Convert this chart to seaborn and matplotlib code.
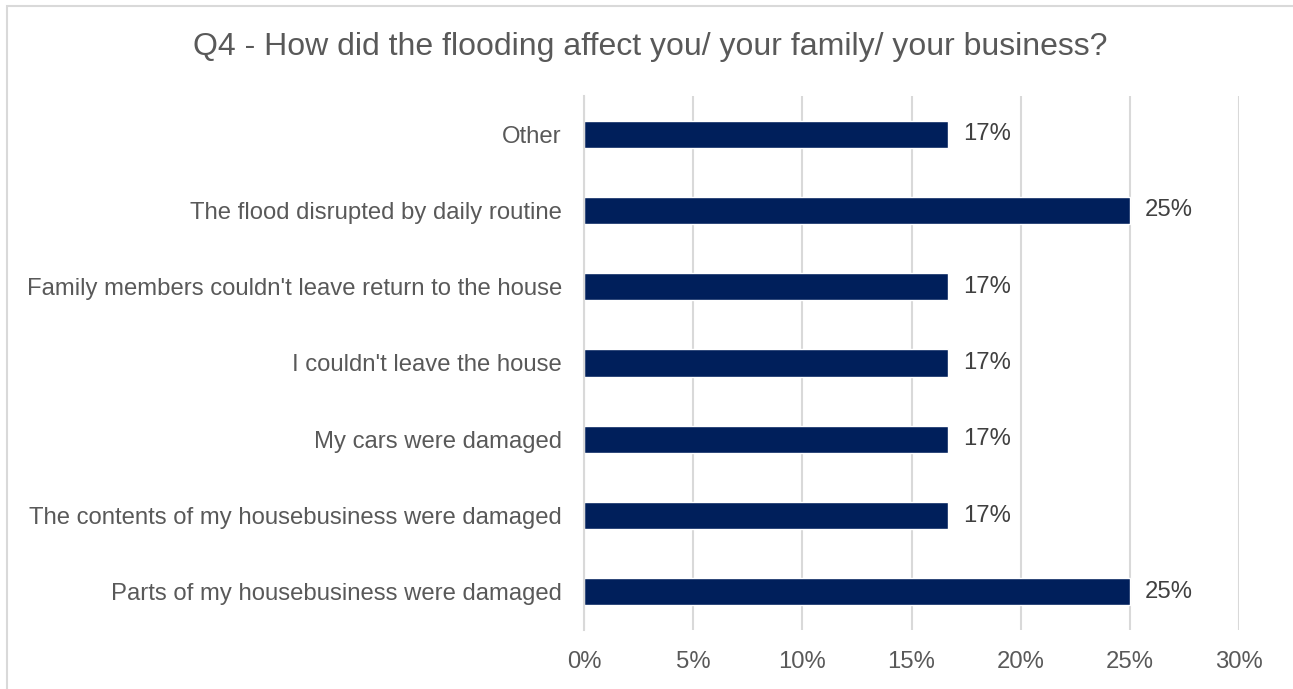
import matplotlib
matplotlib.use("Agg")
import matplotlib.pyplot as plt
from matplotlib.patches import Rectangle
from matplotlib.ticker import PercentFormatter
import seaborn as sns
import pandas as pd

categories = [
    "Other",
    "The flood disrupted by daily routine",
    "Family members couldn't leave return to the house",
    "I couldn't leave the house",
    "My cars were damaged",
    "The contents of my housebusiness were damaged",
    "Parts of my housebusiness were damaged",
]
shares = [1 / 6, 0.25, 1 / 6, 1 / 6, 1 / 6, 1 / 6, 0.25]
value_labels = ["17%", "25%", "17%", "17%", "17%", "17%", "25%"]

title = "Q4 - How did the flooding affect you/ your family/ your business?"

df = pd.DataFrame({"category": categories, "share": shares})

sns.set_theme(style="white")
plt.rcParams["font.family"] = ["Liberation Sans", "DejaVu Sans"]

text_color = "#595959"
grid_color = "#d9d9d9"
bar_color = "#001f5b"
fs = 17.2

fig = plt.figure(figsize=(12.93, 6.89), dpi=100)
ax = fig.add_axes([0.4517, 0.0856, 0.9582 - 0.4517, 0.8607 - 0.0856])

sns.barplot(data=df, x="share", y="category", order=categories,
            color=bar_color, width=0.355, saturation=1, ax=ax)

ax.set_xlim(0, 0.30)
ax.set_ylim(len(categories) - 0.5, -0.5)
ax.set_xticks([0, 0.05, 0.10, 0.15, 0.20, 0.25, 0.30])
ax.xaxis.set_major_formatter(PercentFormatter(1.0, decimals=0))
ax.set_xlabel("")
ax.set_ylabel("")
ax.grid(axis="x", color=grid_color, linewidth=1.5)
ax.set_axisbelow(True)
for side in ["top", "right", "bottom"]:
    ax.spines[side].set_visible(False)
ax.spines["left"].set_color(grid_color)
ax.spines["left"].set_linewidth(1.5)
ax.tick_params(axis="both", length=0, labelsize=fs, labelcolor=text_color)
ax.tick_params(axis="y", pad=16)
ax.tick_params(axis="x", pad=15)

for i, (v, lab) in enumerate(zip(shares, value_labels)):
    ax.annotate(lab, xy=(v, i), xytext=(11, 0), textcoords="offset points",
                va="center", ha="left", fontsize=fs, color="#404040")

fig.text(0.503, 0.932, title, ha="center", va="center",
         fontsize=23, color=text_color)

# Chart-area frame
fig.patches.append(Rectangle((7 / 1293, -0.05), 1.2, 1 - 6 / 689 + 0.05,
                             transform=fig.transFigure, fill=False,
                             edgecolor=grid_color, linewidth=1.5))

fig.savefig("out.png", dpi=100)
